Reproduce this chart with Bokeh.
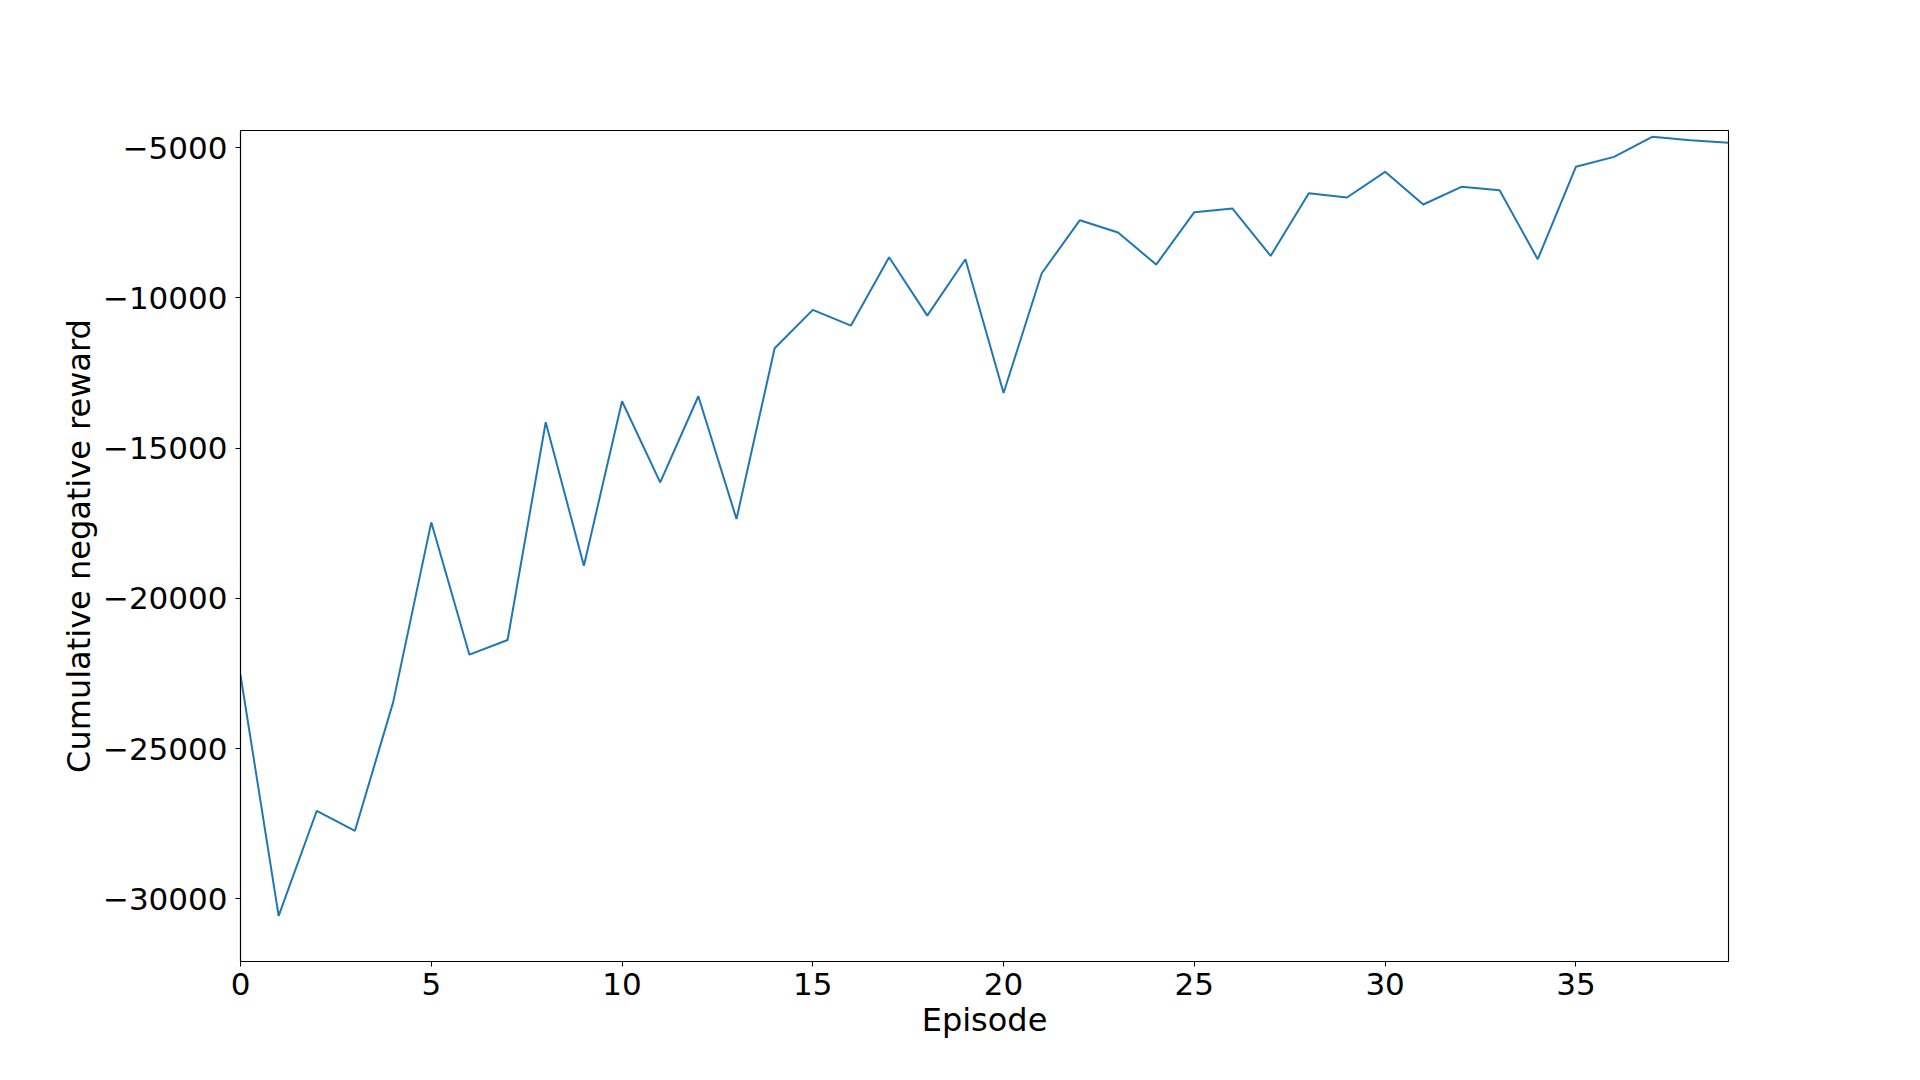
from bokeh.plotting import figure
from bokeh.models import Range1d, FixedTicker, ColumnDataSource
from bokeh.embed import file_html
from bokeh.resources import INLINE

episodes = list(range(40))
reward = [-22550, -30566, -27071, -27737, -23465, -17473, -21877, -21389, -14144, -18915,
          -13445, -16141, -13278, -17361, -11681, -10404, -10925, -8651, -10593, -8718,
          -13167, -9184, -7419, -7830, -8895, -7153, -7031, -8606, -6520, -6664,
          -5810, -6897, -6309, -6420, -8718, -5643, -5311, -4644, -4757, -4843]

x_ticks = [0, 5, 10, 15, 20, 25, 30, 35]
y_ticks = [-30000, -25000, -20000, -15000, -10000, -5000]
y_tick_labels = {t: ("\u2212" + str(-t)) if t < 0 else str(t) for t in y_ticks}

FONT = "DejaVu Sans"

p = figure(width=1904, height=1064, output_backend="svg", toolbar_location=None,
           x_range=Range1d(0, 39), y_range=Range1d(-32087, -4434),
           min_border_left=240, min_border_right=176, min_border_top=130, min_border_bottom=103)

src = ColumnDataSource(dict(x=episodes, y=reward))
p.line("x", "y", source=src, line_color="#1f77b4", line_width=2)

p.grid.visible = False
p.outline_line_color = "black"
p.outline_line_width = 1.1
p.background_fill_color = "white"
p.border_fill_color = "white"

for ax in (p.xaxis[0], p.yaxis[0]):
    ax.axis_line_color = "black"
    ax.axis_line_width = 1.1
    ax.major_tick_in = 0
    ax.major_tick_out = 5
    ax.major_tick_line_color = "black"
    ax.minor_tick_line_color = None
    ax.major_label_text_font = FONT
    ax.major_label_text_font_size = "31px"
    ax.major_label_text_color = "black"
    ax.axis_label_text_font = FONT
    ax.axis_label_text_font_size = "32px"
    ax.axis_label_text_font_style = "normal"
    ax.axis_label_text_color = "black"

p.xaxis[0].major_label_standoff = 6
p.yaxis[0].major_label_standoff = 8
p.xaxis[0].ticker = FixedTicker(ticks=x_ticks)
p.yaxis[0].ticker = FixedTicker(ticks=y_ticks)
p.yaxis[0].major_label_overrides = y_tick_labels
p.xaxis[0].axis_label = "Episode"
p.yaxis[0].axis_label = "Cumulative negative reward"
p.xaxis[0].axis_label_standoff = 3
p.yaxis[0].axis_label_standoff = 2

open("out.html", "w").write(file_html(p, INLINE))
